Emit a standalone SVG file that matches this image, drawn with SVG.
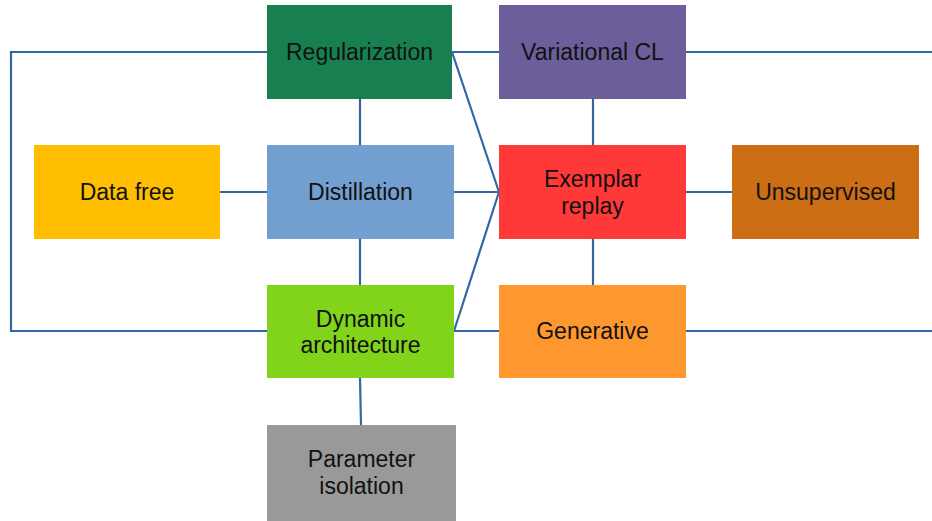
<svg xmlns="http://www.w3.org/2000/svg" width="932" height="521" viewBox="0 0 932 521">
<style>
.n rect{stroke:none}
.n text{font-family:"Liberation Sans",Arial,sans-serif;font-size:23px;fill:#111;text-anchor:middle}
.c line,.c polyline{stroke:#3465a4;stroke-width:2.2;fill:none}
</style>
<rect width="932" height="521" fill="#fff"/>
<g class="c" id="connectors">
<polyline points="267,52 11,52 11,331 267,331"/>
<line x1="452" y1="52" x2="499" y2="52"/>
<line x1="686" y1="52" x2="932" y2="52"/>
<line x1="686" y1="331" x2="932" y2="331"/>
<line x1="452" y1="52" x2="499" y2="192"/>
<line x1="454" y1="331" x2="499" y2="192"/>
<line x1="454" y1="192" x2="499" y2="192"/>
<line x1="454" y1="331" x2="499" y2="331"/>
<line x1="220" y1="192" x2="267" y2="192"/>
<line x1="360" y1="99" x2="360" y2="145"/>
<line x1="360" y1="239" x2="360" y2="285"/>
<line x1="360" y1="378" x2="361" y2="425"/>
<line x1="593" y1="99" x2="593" y2="145"/>
<line x1="593" y1="239" x2="593" y2="285"/>
<line x1="686" y1="192" x2="732" y2="192"/>
</g>
<g class="n" id="regularization"><rect x="267" y="5" width="185" height="94" fill="#187f51"/><text x="359.5" y="60">Regularization</text></g>
<g class="n" id="distillation"><rect x="267" y="145" width="187" height="94" fill="#729fcf"/><text x="360.5" y="200">Distillation</text></g>
<g class="n" id="data-free"><rect x="34" y="145" width="186" height="94" fill="#ffbf00"/><text x="127" y="200">Data free</text></g>
<g class="n" id="dynamic-architecture"><rect x="267" y="285" width="187" height="93" fill="#81d41a"/><text x="360.5" y="327">Dynamic</text><text x="360.5" y="353">architecture</text></g>
<g class="n" id="parameter-isolation"><rect x="267" y="425" width="189" height="96" fill="#999999"/><text x="361.5" y="467">Parameter</text><text x="361.5" y="494">isolation</text></g>
<g class="n" id="variational-cl"><rect x="499" y="5" width="187" height="94" fill="#6b5e9b"/><text x="592.5" y="60">Variational CL</text></g>
<g class="n" id="exemplar-replay"><rect x="499" y="145" width="187" height="94" fill="#ff3838"/><text x="592.5" y="187">Exemplar</text><text x="592.5" y="214">replay</text></g>
<g class="n" id="unsupervised"><rect x="732" y="145" width="187" height="94" fill="#cc6e14"/><text x="825.5" y="200">Unsupervised</text></g>
<g class="n" id="generative"><rect x="499" y="285" width="187" height="93" fill="#ff972f"/><text x="592.5" y="339">Generative</text></g>
</svg>
